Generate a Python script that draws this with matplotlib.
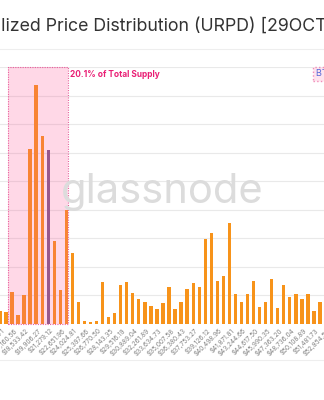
import matplotlib
matplotlib.use("Agg")
import matplotlib.pyplot as plt
from matplotlib.patches import Rectangle

plt.rcParams["font.family"] = ["Inter", "DejaVu Sans"]

# URPD bins, % of supply per bin (bin width ~ $686.42)
supply_pct = [
    0.23, 0.21, 0.56, 0.16, 0.51, 3.07, 4.18, 3.29, 3.05, 1.45,
    0.59, 1.99, 1.24, 0.38, 0.05, 0.03, 0.05, 0.73, 0.12, 0.19,
    0.68, 0.73, 0.54, 0.44, 0.38, 0.31, 0.26, 0.37, 0.64, 0.26,
    0.38, 0.61, 0.71, 0.64, 1.48, 1.60, 0.75, 0.84, 1.76, 0.52,
    0.38, 0.52, 0.75, 0.30, 0.38, 0.78, 0.28, 0.68, 0.47, 0.52,
    0.44, 0.52, 0.23, 0.38,
]
current_price_bin = 8
cluster_bins = (2, 11)
cluster_label = "20.1% of Total Supply"

tick_labels = [
    "$15,787.71", "$17,160.56", "$18,533.42", "$19,906.27", "$21,279.12",
    "$22,651.96", "$24,024.81", "$25,397.66", "$26,770.50", "$28,143.35",
    "$29,516.19", "$30,889.04", "$32,261.89", "$33,634.73", "$35,007.58",
    "$36,380.43", "$37,753.27", "$39,126.12", "$40,498.96", "$41,871.81",
    "$43,244.66", "$44,617.50", "$45,990.35", "$47,363.20", "$48,736.04",
    "$50,108.89", "$51,481.73", "$52,854.58",
]

title = "Bitcoin: UTXO Realized Price Distribution (URPD) [29OCT2022]"
title_hidden_part = "Bitcoin: UTXO Rea"

W, H = 324, 400
fig = plt.figure(figsize=(W / 100, H / 100), dpi=100)

# axes wider than the figure: the chart is a crop of a bigger one
px_per_bin = 6.04
left_px, right_px = -30, 354
x0 = -0.1
ax = fig.add_axes([left_px / W, 76 / H, (right_px - left_px) / W, 257 / H])
ax.set_xlim((left_px - x0) / px_per_bin, (right_px - x0) / px_per_bin)
ax.set_ylim(0, 4.48)

idx = list(range(len(supply_pct)))
colors = ["#f7931a"] * len(supply_pct)
colors[current_price_bin] = "#7a5a8c"
ax.bar(idx, supply_pct, width=0.55, color=colors, zorder=2)

lo, hi = cluster_bins
ax.add_patch(Rectangle((lo - 0.6, 0), (hi - lo) + 0.95, 4.5, facecolor="#ff4f93",
                       alpha=0.22, edgecolor="none", zorder=3, clip_on=False))
ax.add_patch(Rectangle((lo - 0.6, 0), (hi - lo) + 0.95, 4.5, facecolor="none",
                       edgecolor="#e8609c", linestyle=(0, (1, 1.2)), linewidth=0.8,
                       zorder=4, clip_on=False))
ax.text(hi + 0.55, 4.44, cluster_label, color="#e91e74", fontsize=6.0,
        fontweight="bold", va="top", ha="left", zorder=5)

ax.set_yticks([0.5 * k for k in range(1, 10)])
ax.yaxis.grid(True, color="#e9e9e9", linewidth=0.8, zorder=0)
ax.tick_params(axis="y", left=False, labelleft=False)
ax.set_xticks([2 * k + 1 for k in range(len(tick_labels))])
ax.set_xticklabels(tick_labels, rotation=45, ha="right", fontsize=4.6, color="#808080")
ax.tick_params(axis="x", length=0, pad=2)
for s in ax.spines.values():
    s.set_visible(False)

# watermark
fig.text(162 / W, 1 - 192 / H, "glassnode", fontsize=30, color="#dcdcdc",
         ha="center", va="center", zorder=10)

# legend stub at top right
fig.text(316 / W, 1 - 74 / H, "BTC Price", fontsize=6.5, color="#5468d8", va="center",
         ha="left", bbox=dict(facecolor="#ffe3ee", edgecolor="#f08cb8",
                              linestyle=":", boxstyle="square,pad=0.3"))

# title, cropped at the left edge
title_size = 12.8
renderer = fig.canvas.get_renderer()
probe = fig.text(0, 0, title_hidden_part, fontsize=title_size, color="#333333")
hidden_w = probe.get_window_extent(renderer).width
probe.remove()
fig.text((1 - hidden_w) / W, 1 - 31 / H, title, fontsize=title_size, color="#333333",
         ha="left", va="baseline")

fig.add_artist(plt.Line2D([0, 1], [1 - 49 / H, 1 - 49 / H], color="#eeeeee", linewidth=0.8))
fig.add_artist(plt.Line2D([0, 1], [1 - 360 / H, 1 - 360 / H], color="#eeeeee", linewidth=0.8))

fig.savefig("out.png", dpi=100)
